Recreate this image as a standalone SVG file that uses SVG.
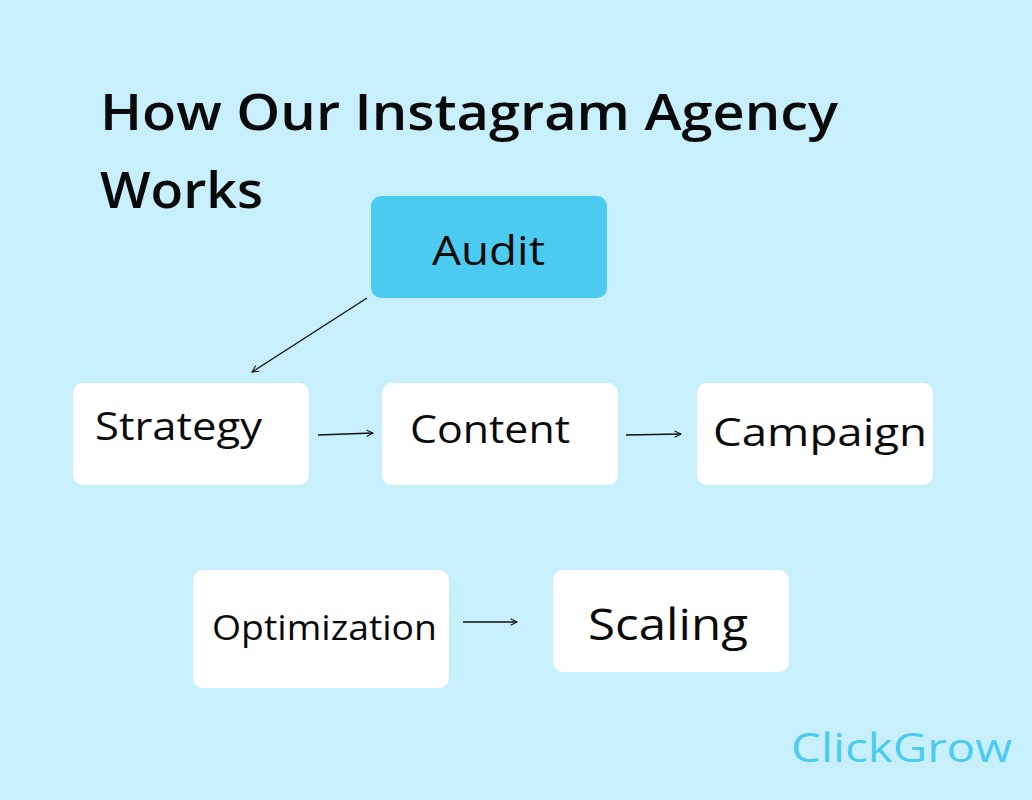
<svg xmlns="http://www.w3.org/2000/svg" width="1032" height="800" viewBox="0 0 1032 800">
<style>
text{font-family:"Open Sans","Liberation Sans",sans-serif;fill:#0a0a0a}
.box{fill:#fff}
.c line{stroke:#111;stroke-width:1.3;marker-end:url(#a)}
</style>
<defs><marker id="a" viewBox="0 0 10 10" refX="9" refY="5" markerWidth="8" markerHeight="8" orient="auto" markerUnits="userSpaceOnUse"><path d="M1 1L9 5L1 9" fill="none" stroke="#111" stroke-width="1.3"/></marker></defs>
<rect width="1032" height="800" fill="#c8f0fc"/>
<text x="100" y="130" font-size="50" font-weight="600" textLength="738" lengthAdjust="spacingAndGlyphs">How Our Instagram Agency</text>
<text x="100" y="208" font-size="50" font-weight="600" textLength="163" lengthAdjust="spacingAndGlyphs">Works</text>
<g id="audit"><rect x="371" y="196" width="236" height="102" rx="10" fill="#4ccbf0"/><text x="432" y="265" font-size="40" textLength="113" lengthAdjust="spacingAndGlyphs">Audit</text></g>
<g id="strategy"><rect class="box" x="73" y="383" width="236" height="102" rx="10"/><text x="95" y="440" font-size="39" textLength="167" lengthAdjust="spacingAndGlyphs">Strategy</text></g>
<g id="content"><rect class="box" x="382" y="383" width="236" height="102" rx="10"/><text x="410" y="443" font-size="39" textLength="160" lengthAdjust="spacingAndGlyphs">Content</text></g>
<g id="campaign"><rect class="box" x="697" y="383" width="236" height="102" rx="10"/><text x="713" y="446" font-size="39" textLength="214" lengthAdjust="spacingAndGlyphs">Campaign</text></g>
<g id="optimization"><rect class="box" x="193" y="570" width="256" height="118" rx="10"/><text x="212" y="640" font-size="34" textLength="225" lengthAdjust="spacingAndGlyphs">Optimization</text></g>
<g id="scaling"><rect class="box" x="553" y="570" width="236" height="102" rx="10"/><text x="588" y="640" font-size="43" textLength="160" lengthAdjust="spacingAndGlyphs">Scaling</text></g>
<g class="c" id="connectors">
<line x1="367" y1="298" x2="252" y2="372"/>
<line x1="318" y1="435" x2="373" y2="433"/>
<line x1="626" y1="435" x2="681" y2="434"/>
<line x1="463" y1="622" x2="517" y2="622"/>
</g>
<text x="791" y="762" font-size="40" textLength="221" lengthAdjust="spacingAndGlyphs" style="fill:#4ccbf0">ClickGrow</text>
</svg>
